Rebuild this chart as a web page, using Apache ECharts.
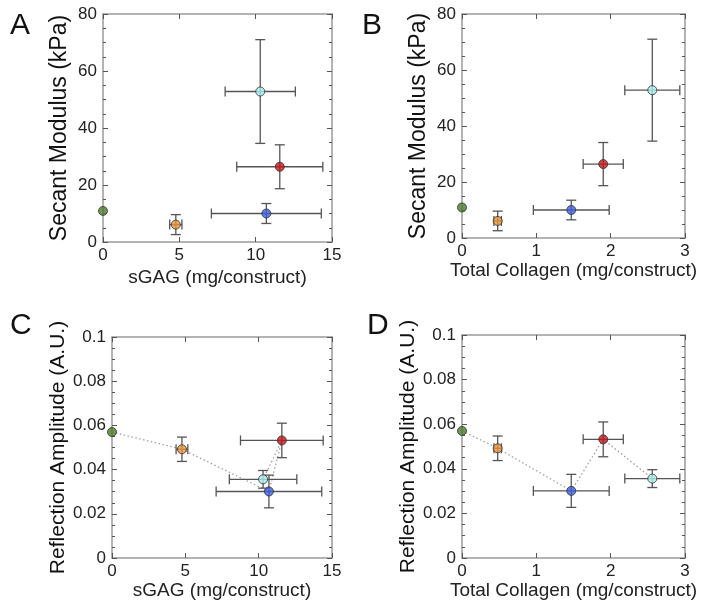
<!DOCTYPE html>
<html>
<head>
<meta charset="utf-8">
<script src="https://cdn.jsdelivr.net/npm/echarts@6/dist/echarts.min.js"></script>
<style>html,body{margin:0;padding:0;background:#fff}#c{width:704px;height:607px}</style>
</head>
<body>
<div id="c"></div>
<script>
// Groups (in plotting/line order)
const groupColors = ['#4a7a2c', '#e8923a', '#3d5fe0', '#c4161c', '#a8eeee'];
const sGAG = [0, 4.77, 10.7, 11.58, 10.3];
const sGAGErr = [0, 0.4, 3.6, 2.82, 2.3];
const collagen = [0, 0.48, 1.47, 1.9, 2.56];
const collagenErr = [0, 0.05, 0.51, 0.27, 0.37];
const modulus = [10.9, 6.1, 10.0, 26.4, 52.8];
const modulusErr = [0, 3.5, 3.5, 7.7, 18.2];
const reflection = [0.0570, 0.0492, 0.0301, 0.0532, 0.0356];
const reflectionErr = [0, 0.0055, 0.0074, 0.0078, 0.0040];

const sGAGTicks = {min: 0, max: 15, interval: 5};
const collagenTicks = {min: 0, max: 3, interval: 1};
const modulusTicks = {min: 0, max: 80, interval: 20};
const reflectionTicks = {min: 0, max: 0.1, interval: 0.02};

const FONT = '"Liberation Sans", Arial, sans-serif';
const grids = [
  {left: 103, top: 14, width: 229, height: 228},
  {left: 462, top: 14, width: 223, height: 224},
  {left: 112, top: 337, width: 220, height: 221},
  {left: 462, top: 335, width: 223, height: 223}
];
const xNameGaps = [26, 22, 22, 22.5];
const panels = [
  {letter: 'A', x: sGAG, xe: sGAGErr, y: modulus, ye: modulusErr, xt: sGAGTicks, yt: modulusTicks, xn: 'sGAG (mg/construct)', yn: 'Secant Modulus (kPa)', line: false, ylab: v => v},
  {letter: 'B', x: collagen, xe: collagenErr, y: modulus, ye: modulusErr, xt: collagenTicks, yt: modulusTicks, xn: 'Total Collagen (mg/construct)', yn: 'Secant Modulus (kPa)', line: false, ylab: v => v},
  {letter: 'C', x: sGAG, xe: sGAGErr, y: reflection, ye: reflectionErr, xt: sGAGTicks, yt: reflectionTicks, xn: 'sGAG (mg/construct)', yn: 'Reflection Amplitude (A.U.)', line: true, ylab: v => v === 0 ? '0' : (+v.toFixed(2)).toString()},
  {letter: 'D', x: collagen, xe: collagenErr, y: reflection, ye: reflectionErr, xt: collagenTicks, yt: reflectionTicks, xn: 'Total Collagen (mg/construct)', yn: 'Reflection Amplitude (A.U.)', line: true, ylab: v => v === 0 ? '0' : (+v.toFixed(2)).toString()}
];
const letterPos = [{left: 5, top: 6}, {left: 357, top: 6}, {left: 5, top: 306}, {left: 362, top: 306}];

const axisColor = '#9a9a9a';
const xAxes = [], yAxes = [], series = [], titles = [];
panels.forEach((p, i) => {
  titles.push({text: p.letter, left: letterPos[i].left, top: letterPos[i].top,
    textStyle: {fontSize: 30, fontWeight: 'normal', color: '#111', fontFamily: FONT}});
  const common = {type: 'value', gridIndex: i, splitLine: {show: false},
    axisLine: {show: true, onZero: false, lineStyle: {color: axisColor, width: 1.5}}};
  const tick = {inside: true, length: 5, lineStyle: {color: '#555'}};
  const minor = {show: true, splitNumber: 4, length: 3, lineStyle: {color: '#555'}};
  xAxes.push(Object.assign({}, common, p.xt, {position: 'bottom', name: p.xn, nameLocation: 'middle', nameGap: xNameGaps[i],
    nameTextStyle: {fontSize: 19, color: '#222', fontFamily: FONT},
    axisTick: tick,
    axisLabel: {fontSize: 17, color: '#222', fontFamily: FONT, margin: 5}}));
  xAxes.push(Object.assign({}, common, p.xt, {position: 'top', axisTick: tick, axisLabel: {show: false}}));
  yAxes.push(Object.assign({}, common, p.yt, {position: 'left', name: p.yn, nameLocation: 'middle',
    nameGap: p.line ? 43 : 32,
    nameTextStyle: {fontSize: p.line ? 21 : 23, color: '#111', fontFamily: FONT},
    axisTick: tick, minorTick: minor,
    axisLabel: {fontSize: 17, color: '#222', fontFamily: FONT, margin: 6, formatter: p.ylab}}));
  yAxes.push(Object.assign({}, common, p.yt, {position: 'right', axisTick: tick, minorTick: minor, axisLabel: {show: false}}));

  const xi = 2 * i, yi = 2 * i;
  if (p.line) {
    series.push({type: 'line', xAxisIndex: xi, yAxisIndex: yi, symbol: 'none', silent: true, z: 1,
      lineStyle: {color: '#9a9a9a', width: 1.2, type: [1.5, 2.5]},
      data: p.x.map((v, k) => [v, p.y[k]])});
  }
  series.push({type: 'custom', xAxisIndex: xi, yAxisIndex: yi, z: 2, silent: true,
    data: p.x.map((v, k) => [v, p.y[k], p.xe[k], p.ye[k]]),
    renderItem: function (params, api) {
      const x = api.value(0), y = api.value(1), xe = api.value(2), ye = api.value(3);
      const children = [];
      const st = {stroke: '#555', lineWidth: 1.3};
      const cap = 5;
      if (ye > 0) {
        const a = api.coord([x, y - ye]), b = api.coord([x, y + ye]);
        children.push({type: 'line', shape: {x1: a[0], y1: a[1], x2: b[0], y2: b[1]}, style: st});
        children.push({type: 'line', shape: {x1: a[0] - cap, y1: a[1], x2: a[0] + cap, y2: a[1]}, style: st});
        children.push({type: 'line', shape: {x1: b[0] - cap, y1: b[1], x2: b[0] + cap, y2: b[1]}, style: st});
      }
      if (xe > 0) {
        const a = api.coord([x - xe, y]), b = api.coord([x + xe, y]);
        children.push({type: 'line', shape: {x1: a[0], y1: a[1], x2: b[0], y2: b[1]}, style: st});
        children.push({type: 'line', shape: {x1: a[0], y1: a[1] - cap, x2: a[0], y2: a[1] + cap}, style: st});
        children.push({type: 'line', shape: {x1: b[0], y1: b[1] - cap, x2: b[0], y2: b[1] + cap}, style: st});
      }
      return {type: 'group', children: children};
    }});
  series.push({type: 'scatter', xAxisIndex: xi, yAxisIndex: yi, z: 3, symbol: 'circle', symbolSize: 9,
    data: p.x.map((v, k) => ({value: [v, p.y[k]], itemStyle: {color: groupColors[k], borderColor: '#333', borderWidth: 1}}))});
});

const chart = echarts.init(document.getElementById('c'), null, {renderer: 'canvas'});
chart.setOption({
  animation: false,
  backgroundColor: '#fff',
  title: titles,
  grid: grids,
  xAxis: xAxes,
  yAxis: yAxes,
  series: series
});
</script>
</body>
</html>
